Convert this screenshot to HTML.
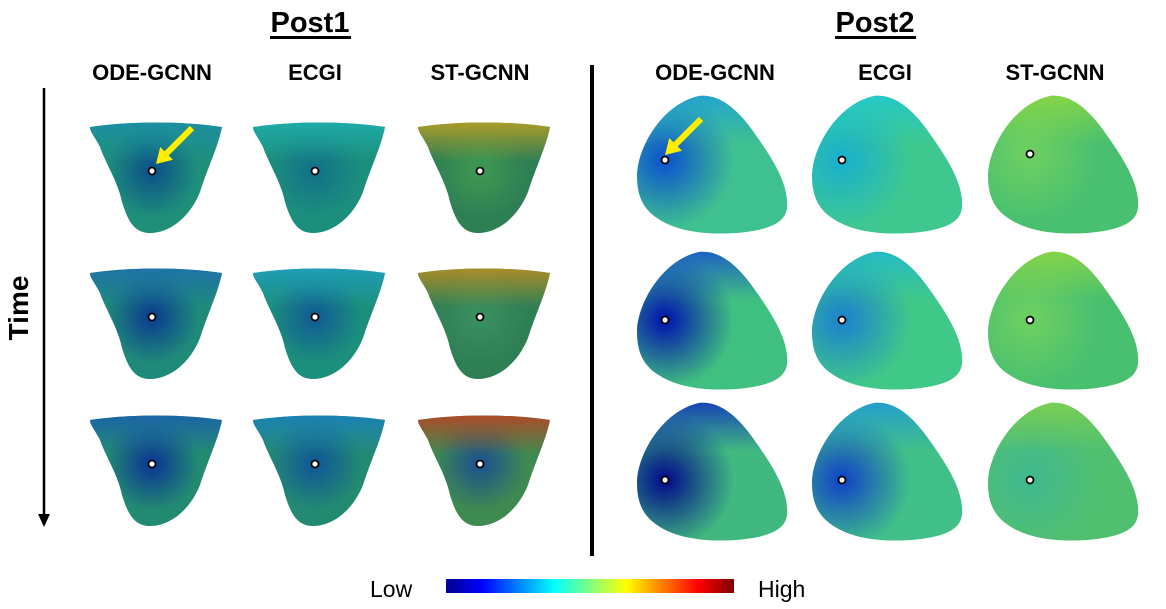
<!DOCTYPE html>
<html><head><meta charset="utf-8"><style>
body{margin:0;background:#fff;width:1166px;height:604px;overflow:hidden;font-family:"Liberation Sans",Arial,sans-serif}
</style></head><body>
<svg id="fig" width="1166" height="604" viewBox="0 0 1166 604" xmlns="http://www.w3.org/2000/svg">
<defs>
<linearGradient id="cbar" x1="0" x2="1" y1="0" y2="0">
<stop offset="0" stop-color="#00008f"/><stop offset="0.125" stop-color="#0000ff"/><stop offset="0.375" stop-color="#00ffff"/><stop offset="0.625" stop-color="#ffff00"/><stop offset="0.875" stop-color="#ff0000"/><stop offset="1" stop-color="#800000"/>
</linearGradient>
</defs>
<text x="310" y="32" font-size="29" font-weight="bold" text-anchor="middle">Post1</text>
<rect x="270" y="36" width="81" height="3" fill="#000"/>
<text x="875" y="32" font-size="29" font-weight="bold" text-anchor="middle">Post2</text>
<rect x="835" y="36" width="81" height="3" fill="#000"/>
<g font-size="22" font-weight="bold" text-anchor="middle">
<text x="152" y="80">ODE-GCNN</text>
<text x="315" y="80">ECGI</text>
<text x="480" y="80">ST-GCNN</text>
<text x="715" y="80">ODE-GCNN</text>
<text x="885" y="80">ECGI</text>
<text x="1055" y="80">ST-GCNN</text>
</g>
<text transform="translate(28,308) rotate(-90)" font-size="28" font-weight="bold" text-anchor="middle">Time</text>
<line x1="44" y1="88" x2="44" y2="518" stroke="#000" stroke-width="2.5"/>
<polygon points="38,514 50,514 44,527" fill="#000"/>
<rect x="590" y="65" width="4" height="491" fill="#000"/>
<g id="cells"></g>
<text x="370" y="597" font-size="23">Low</text>
<rect x="446" y="579" width="288" height="14" fill="url(#cbar)"/>
<text x="758" y="597" font-size="23">High</text>
</svg>
<script>
const NS='http://www.w3.org/2000/svg';
const heartPath='M0,5 C40,-1 92,-1 132,5 C128,25 118,45 110,70 C100,95 80,111 60,111 C45,111 38,100 32,80 C28,60 15,40 10,25 C5,15 0,10 0,5 Z';
const blobPath='M62,0 C82,-2 100,12 118,38 C138,66 152,90 150,112 C148,128 130,134 100,137 C70,139 40,136 20,122 C5,112 0,98 0,80 C0,52 25,8 62,0 Z';
// [type, x, y, dotX, dotY, centerColor, edgeColor, topColor]
const cells=[
['h',90,122,62,49,'#0a4f8a','#1f8f7a','#1a8fa8'],
['h',253,122,62,49,'#12708a','#1c8f7c','#1fb0b0'],
['h',418,122,62,49,'#3f9a50','#2f7f55','#c0a020'],
['h',90,268,62,49,'#0a3a90','#1f8a7a','#1d6fb0'],
['h',253,268,62,49,'#0f5a95','#1c8f7c','#1fa0c0'],
['h',418,268,62,49,'#3a9060','#2f7f55','#c09020'],
['h',90,415,62,49,'#0a3395','#238a72','#1a5fb0'],
['h',253,415,62,49,'#0f5598','#238a72','#1a80c0'],
['h',418,415,62,49,'#1a4f90','#3f8a50','#c04020'],
['b',637,96,28,64,'#0a50d0','#3fc090','#1ea0d8'],
['b',812,96,30,64,'#18b0d0','#3ec890','#20c8d0'],
['b',988,96,42,58,'#70d060','#48c070','#90d840'],
['b',637,252,28,68,'#0010b0','#40c080','#1850d0'],
['b',812,252,30,68,'#1a80d0','#40c888','#20b8d0'],
['b',988,252,42,68,'#70d060','#48c070','#90d840'],
['b',637,403,28,77,'#00088a','#40b880','#1030c0'],
['b',812,403,30,77,'#1040c8','#40c088','#2098d8'],
['b',988,403,42,77,'#40b890','#50c070','#80d050']
];
const g=document.getElementById('cells');
const defs=document.querySelector('defs');
cells.forEach((c,i)=>{
  const [t,x,y,dx,dy,cc,ec,tc]=c;
  const gid='grad'+i;
  const rg=document.createElementNS(NS,'radialGradient');
  rg.setAttribute('id',gid);rg.setAttribute('gradientUnits','userSpaceOnUse');
  rg.setAttribute('cx',dx);rg.setAttribute('cy',dy);rg.setAttribute('r',t==='h'?85:125);
  [[0,cc],[0.55,ec],[1,ec]].forEach(s=>{const st=document.createElementNS(NS,'stop');st.setAttribute('offset',s[0]);st.setAttribute('stop-color',s[1]);rg.appendChild(st);});
  defs.appendChild(rg);
  const lg=document.createElementNS(NS,'linearGradient');
  lg.setAttribute('id','top'+i);lg.setAttribute('x1',0);lg.setAttribute('x2',0);lg.setAttribute('y1',0);lg.setAttribute('y2',1);
  [[0,tc,0.85],[0.35,tc,0],[1,tc,0]].forEach(s=>{const st=document.createElementNS(NS,'stop');st.setAttribute('offset',s[0]);st.setAttribute('stop-color',s[1]);st.setAttribute('stop-opacity',s[2]);lg.appendChild(st);});
  defs.appendChild(lg);
  const grp=document.createElementNS(NS,'g');
  grp.setAttribute('transform','translate('+x+','+y+')');
  
  
  const p=document.createElementNS(NS,'path');
  p.setAttribute('d',t==='h'?heartPath:blobPath);p.setAttribute('fill','url(#'+gid+')');
  grp.appendChild(p);
  const p2=document.createElementNS(NS,'path');
  p2.setAttribute('d',t==='h'?heartPath:blobPath);p2.setAttribute('fill','url(#top'+i+')');
  grp.appendChild(p2);
  const d=document.createElementNS(NS,'circle');
  d.setAttribute('cx',dx);d.setAttribute('cy',dy);d.setAttribute('r',3.5);
  d.setAttribute('fill','#fff');d.setAttribute('stroke','#000');d.setAttribute('stroke-width',1.8);
  
  
  grp.appendChild(d);
  g.appendChild(grp);
});
// yellow arrows
[[192,128,156,164],[701,119,665,155]].forEach((a,i)=>{
  const [x1,y1,x2,y2]=a;
  const ang=Math.atan2(y2-y1,x2-x1);
  const hl=15,hw=9;
  const bx=x2-hl*Math.cos(ang),by=y2-hl*Math.sin(ang);
  const l=document.createElementNS(NS,'line');
  l.setAttribute('x1',x1);l.setAttribute('y1',y1);l.setAttribute('x2',bx);l.setAttribute('y2',by);
  l.setAttribute('stroke','#ffee00');l.setAttribute('stroke-width',6);
  
  
  g.appendChild(l);
  const px=-Math.sin(ang),py=Math.cos(ang);
  const h=document.createElementNS(NS,'polygon');
  h.setAttribute('points',x2+','+y2+' '+(bx+px*hw)+','+(by+py*hw)+' '+(bx-px*hw)+','+(by-py*hw));
  h.setAttribute('fill','#ffee00');
  
  
  g.appendChild(h);
});
</script>
</body></html>
